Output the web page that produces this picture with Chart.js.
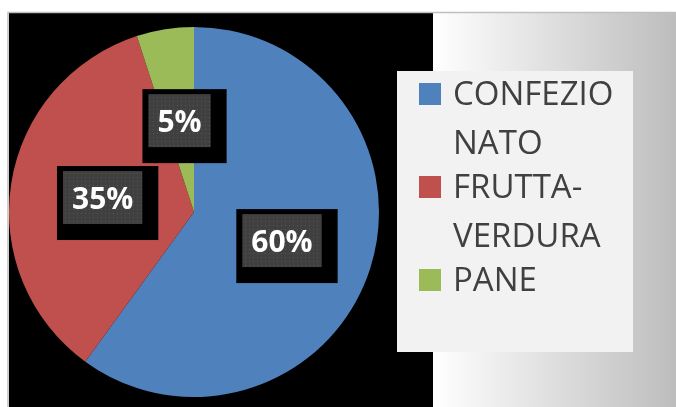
<!DOCTYPE html>
<html>
<head>
<meta charset="utf-8">
<script src="https://cdn.jsdelivr.net/npm/chart.js@4.4.1/dist/chart.umd.min.js"></script>
<style>
    html, body { margin: 0; padding: 0; background: #fff; }
    canvas { display: block; }
</style>
</head>
<body>
<canvas id="pieChart" width="676" height="407"></canvas>
<script>
const categories = [['CONFEZIO', 'NATO'], ['FRUTTA-', 'VERDURA'], 'PANE'];
const shares = [60, 35, 5];
const sliceColors = ['#4F81BD', '#C0504D', '#9BBB59'];

// sfondo: riquadro nero a sinistra, sfumatura grigia a destra
const backgroundPlugin = {
    id: 'background',
    beforeDraw(chart) {
        const ctx = chart.ctx;
        const w = chart.width;
        const h = chart.height;
        ctx.save();
        ctx.fillStyle = '#ffffff';
        ctx.fillRect(0, 0, w, h);
        ctx.fillStyle = '#000000';
        ctx.fillRect(9, 13, 424, h - 13);
        const grad = ctx.createLinearGradient(433, 0, w, 0);
        grad.addColorStop(0, '#ffffff');
        grad.addColorStop(1, '#bdbdbd');
        ctx.fillStyle = grad;
        ctx.fillRect(433, 13, w - 433, h - 13);
        ctx.strokeStyle = '#bfbfbf';
        ctx.lineWidth = 1.5;
        ctx.beginPath();
        ctx.moveTo(8, h);
        ctx.lineTo(8, 12.5);
        ctx.lineTo(w, 12.5);
        ctx.stroke();
        ctx.restore();
    }
};

function dotPattern(ctx) {
    const tile = document.createElement('canvas');
    tile.width = 4;
    tile.height = 4;
    const t = tile.getContext('2d');
    t.fillStyle = '#404040';
    t.fillRect(0, 0, 4, 4);
    t.fillStyle = '#565656';
    t.fillRect(1, 1, 1, 1);
    return ctx.createPattern(tile, 'repeat');
}

// etichette percentuali con box nero
const valueLabelPlugin = {
    id: 'valueLabels',
    afterDatasetsDraw(chart) {
        const ctx = chart.ctx;
        const meta = chart.getDatasetMeta(0);
        const data = chart.data.datasets[0].data;
        const total = data.reduce((a, b) => a + b, 0);
        const pattern = dotPattern(ctx);
        ctx.save();
        ctx.font = 'bold 30px "Open Sans"';
        meta.data.forEach((arc, i) => {
            const pos = arc.tooltipPosition();
            const text = Math.round(data[i] / total * 100) + '%';
            const tw = ctx.measureText(text).width;
            const bw = tw + 18;
            const bh = 53;
            const bx = pos.x - bw / 2;
            const by = pos.y - bh / 2;
            ctx.fillStyle = '#000000';
            ctx.fillRect(bx - 6, by - 5, bw + 22, bh + 21);
            ctx.fillStyle = pattern;
            ctx.fillRect(bx, by, bw, bh);
            ctx.fillStyle = '#ffffff';
            ctx.textAlign = 'center';
            ctx.textBaseline = 'alphabetic';
            ctx.fillText(text, pos.x, pos.y + 11);
        });
        ctx.restore();
    }
};

// legenda a destra
const legendBoxPlugin = {
    id: 'legendBox',
    afterDraw(chart) {
        const ctx = chart.ctx;
        const labels = chart.data.labels;
        const colors = chart.data.datasets[0].backgroundColor;
        ctx.save();
        ctx.fillStyle = '#F2F2F2';
        ctx.fillRect(397, 71, 236, 281);
        ctx.font = '33px "Open Sans"';
        ctx.textBaseline = 'alphabetic';
        ctx.textAlign = 'left';
        labels.forEach((label, i) => {
            const base = 105 + 93 * i;
            ctx.fillStyle = colors[i];
            ctx.fillRect(419, base - 22, 22, 22);
            ctx.fillStyle = '#404040';
            const lines = Array.isArray(label) ? label : [label];
            lines.forEach((line, j) => {
                ctx.fillText(line, 453, base + 49 * j);
            });
        });
        ctx.restore();
    }
};

function buildChart() {
    const ctx = document.getElementById('pieChart').getContext('2d');
    new Chart(ctx, {
        type: 'pie',
        data: {
            labels: categories,
            datasets: [{
                data: shares,
                backgroundColor: sliceColors,
                borderWidth: 0
            }]
        },
        options: {
            responsive: false,
            animation: false,
            devicePixelRatio: 1,
            layout: {
                padding: { left: 9, right: 297, top: 27, bottom: 10 }
            },
            plugins: {
                legend: { display: false },
                tooltip: { enabled: false }
            }
        },
        plugins: [backgroundPlugin, valueLabelPlugin, legendBoxPlugin]
    });
}

Promise.all([
    document.fonts.load('bold 30px "Open Sans"'),
    document.fonts.load('33px "Open Sans"')
]).then(buildChart, buildChart);
</script>
</body>
</html>
